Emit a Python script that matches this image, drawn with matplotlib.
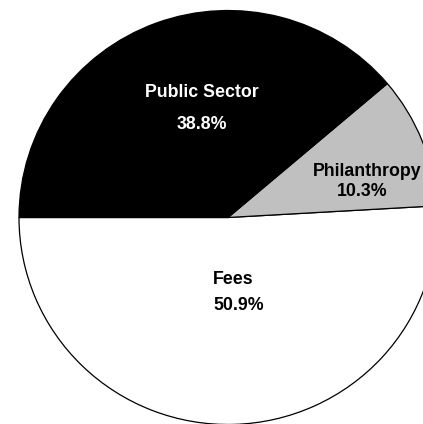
import matplotlib.pyplot as plt

# slice data, counterclockwise from the left horizontal
labels = ['Fees', 'Philanthropy', 'Public Sector']
shares = [50.9, 10.3, 38.8]
colors = ['white', '#c0c0c0', 'black']
text_colors = ['black', 'black', 'white']
# label anchor positions (pie radius = 1)
label_pos = [(0.025, -0.30), (0.665, 0.222), (-0.125, 0.603)]
pct_pos = [(0.05, -0.425), (0.64, 0.124), (-0.125, 0.447)]

fig = plt.figure(figsize=(4.23, 4.24), dpi=100)
ax = fig.add_axes([0, 0, 1, 1])

ax.pie(shares, colors=colors, startangle=180, counterclock=True,
       wedgeprops=dict(edgecolor='black', linewidth=0.9))

for i in range(len(labels)):
    ax.text(label_pos[i][0], label_pos[i][1], labels[i], ha='center', va='center',
            color=text_colors[i], fontsize=12.8, fontweight='bold', family='Liberation Sans')
    ax.text(pct_pos[i][0], pct_pos[i][1], '%.1f%%' % shares[i], ha='center', va='center',
            color=text_colors[i], fontsize=12.8, fontweight='bold', family='Liberation Sans')

rx = 209.0
ry = 207.0
cy = 217.5
ax.set_xlim(-228 / rx, (423 - 228) / rx)
ax.set_ylim(-(424 - cy) / ry, cy / ry)
ax.set_aspect('auto')
ax.axis('off')

fig.savefig('out.png', dpi=100)
